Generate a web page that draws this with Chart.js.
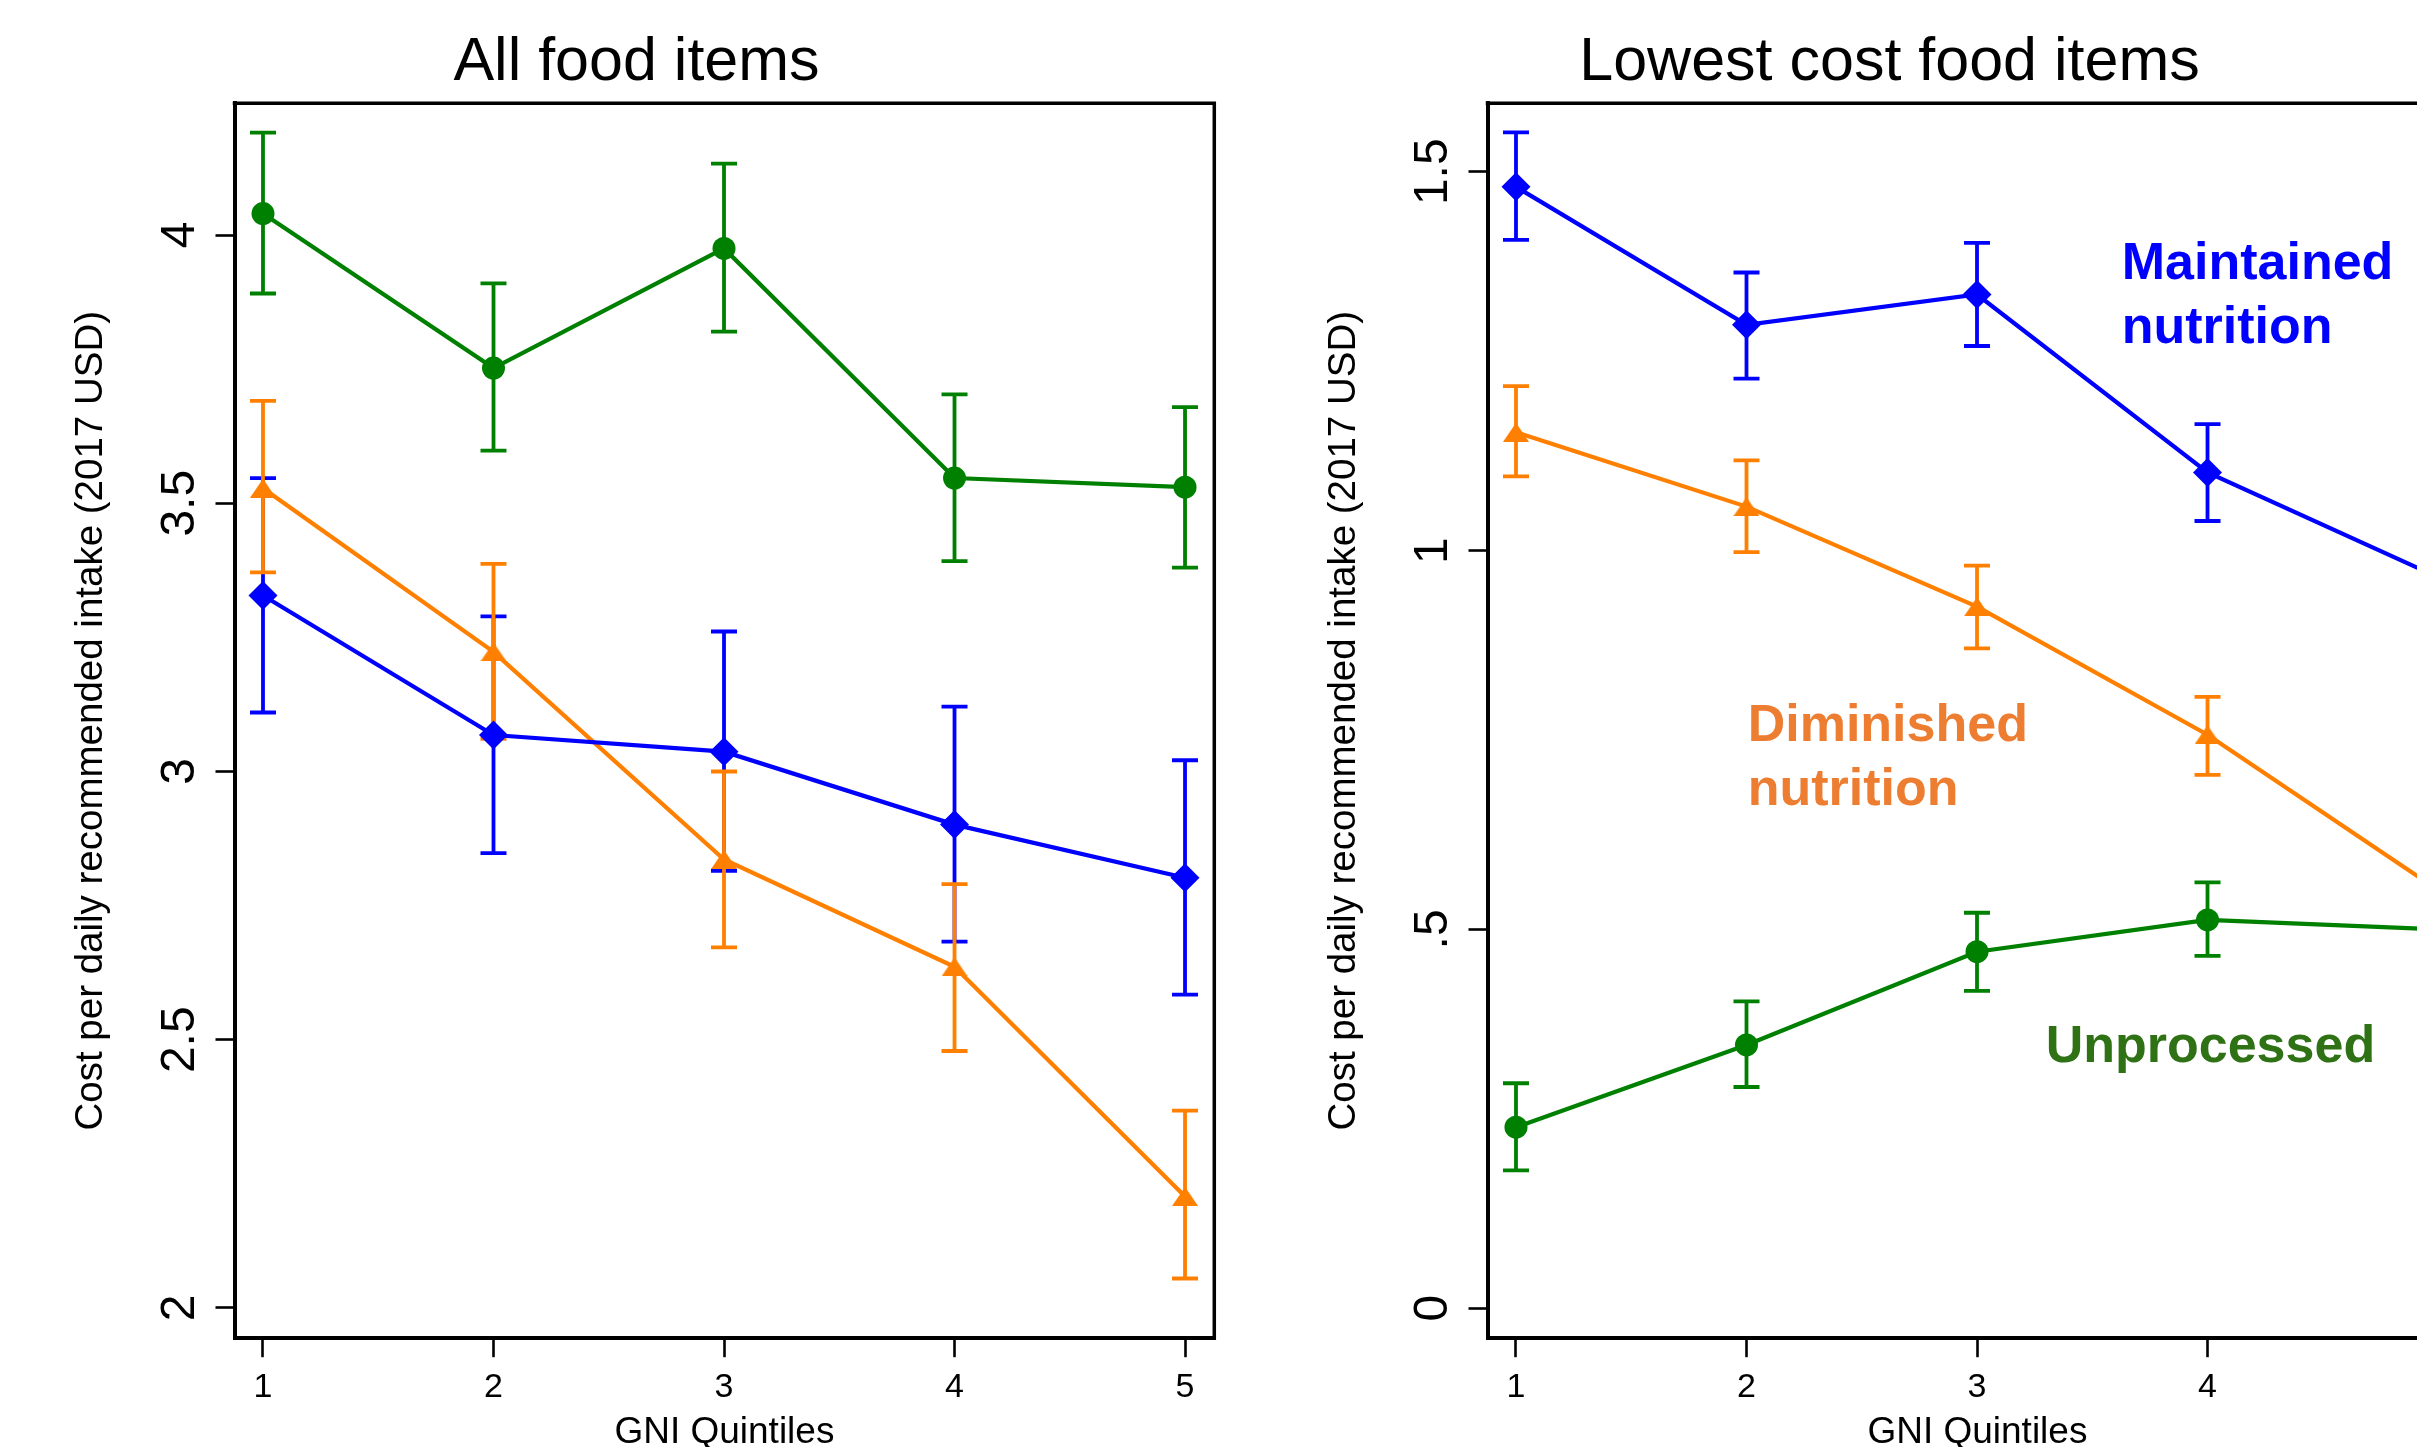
<!DOCTYPE html>
<html><head><meta charset="utf-8">
<script src="https://cdn.jsdelivr.net/npm/chart.js@4.4.1/dist/chart.umd.min.js"></script>
<style>
html,body{margin:0;padding:0;background:#fff;overflow:hidden;width:2417px;height:1447px;}
.panel{position:absolute;top:0;width:1273px;height:1447px;}
#p1{left:0}
#p2{left:1253px}
</style></head><body>
<div class="panel" id="p1"><canvas id="c1"></canvas></div>
<div class="panel" id="p2"><canvas id="c2"></canvas></div>
<script>
// ---------------- data ----------------
const quintiles = [1, 2, 3, 4, 5];
const xTickLabels = ['1', '2', '3', '4', '5'];
const seriesNames = ['Maintained nutrition', 'Diminished nutrition', 'Unprocessed'];

// Panel 1: All food items
const allMaintained   = [3.328, 3.068, 3.037, 2.901, 2.802];
const allMaintainedLo = [3.110, 2.848, 2.815, 2.683, 2.584];
const allMaintainedHi = [3.547, 3.289, 3.261, 3.121, 3.021];
const allDiminished   = [3.528, 3.223, 2.836, 2.636, 2.208];
const allDiminishedLo = [3.371, 3.061, 2.672, 2.479, 2.055];
const allDiminishedHi = [3.691, 3.387, 3.000, 2.790, 2.368];
const allUnprocessed   = [4.040, 3.752, 3.975, 3.547, 3.530];
const allUnprocessedLo = [3.891, 3.598, 3.820, 3.392, 3.380];
const allUnprocessedHi = [4.191, 3.910, 4.133, 3.703, 3.679];
const allYTicks = [2, 2.5, 3, 3.5, 4];
const allYTickLabels = ['2', '2.5', '3', '3.5', '4'];

// Panel 2: Lowest cost food items (quintile 5 error bars lie outside the picture)
const lowMaintained   = [1.480, 1.298, 1.338, 1.103, 0.965];
const lowMaintainedLo = [1.410, 1.227, 1.270, 1.039, null];
const lowMaintainedHi = [1.552, 1.367, 1.406, 1.167, null];
const lowDiminished   = [1.156, 1.058, 0.926, 0.757, 0.552];
const lowDiminishedLo = [1.098, 0.998, 0.871, 0.704, null];
const lowDiminishedHi = [1.217, 1.119, 0.980, 0.807, null];
const lowUnprocessed   = [0.239, 0.3475, 0.4706, 0.5125, 0.500];
const lowUnprocessedLo = [0.182, 0.292, 0.419, 0.465, null];
const lowUnprocessedHi = [0.297, 0.405, 0.522, 0.562, null];
const lowYTicks = [0, 0.5, 1, 1.5];
const lowYTickLabels = ['0', '.5', '1', '1.5'];

const panelTitles = ['All food items', 'Lowest cost food items'];
const xAxisTitle = 'GNI Quintiles';
const yAxisTitle = 'Cost per daily recommended intake (2017 USD)';

// ---------------- styling ----------------
const FONT = '"Liberation Sans", Arial, Helvetica, sans-serif';
Chart.defaults.font.family = FONT;
Chart.defaults.color = '#000';
const BLUE = '#0000FF', ORANGE = '#FF8000', GREEN = '#008000';

function triangleMarker(color) {
  const c = document.createElement('canvas');
  c.width = 26; c.height = 19;
  const g = c.getContext('2d');
  g.fillStyle = color;
  g.beginPath(); g.moveTo(13, 0); g.lineTo(26, 19); g.lineTo(0, 19); g.closePath(); g.fill();
  return c;
}

function series(label, values, lo, hi, color, style, radius) {
  return {
    label,
    data: quintiles.map((q, i) => ({x: q, y: values[i]})),
    errLo: lo, errHi: hi,
    borderColor: color, backgroundColor: color,
    pointBackgroundColor: color, pointBorderColor: color, pointBorderWidth: 0,
    borderWidth: 4.2, pointStyle: style, pointRadius: radius, pointHoverRadius: radius,
    tension: 0, fill: false
  };
}

function makeDecor(cfg) {
  return {
    id: 'decor',
    beforeDatasetsDraw(chart) {
      const {ctx} = chart; const xs = chart.scales.x, ys = chart.scales.y;
      ctx.save();
      chart.data.datasets.forEach(ds => {
        ctx.strokeStyle = ds.borderColor; ctx.lineWidth = 3.8; ctx.lineCap = 'butt';
        ds.data.forEach((p, i) => {
          const lo = ds.errLo[i], hi = ds.errHi[i];
          if (lo == null || hi == null) return;
          const px = xs.getPixelForValue(p.x), y1 = ys.getPixelForValue(lo), y2 = ys.getPixelForValue(hi);
          ctx.beginPath();
          ctx.moveTo(px, y1); ctx.lineTo(px, y2);
          ctx.moveTo(px - 13, y1); ctx.lineTo(px + 13, y1);
          ctx.moveTo(px - 13, y2); ctx.lineTo(px + 13, y2);
          ctx.stroke();
        });
      });
      ctx.restore();
    },
    afterDraw(chart) {
      const {ctx, chartArea: a} = chart; const xs = chart.scales.x, ys = chart.scales.y;
      ctx.save();
      ctx.strokeStyle = '#000'; ctx.lineWidth = 3.5; ctx.lineCap = 'square';
      ctx.beginPath(); ctx.moveTo(a.left, a.top); ctx.lineTo(a.right, a.top); ctx.lineTo(a.right, a.bottom); ctx.stroke();
      ctx.fillStyle = '#000'; ctx.textAlign = 'center'; ctx.textBaseline = 'alphabetic';
      ctx.font = '61px ' + FONT;
      ctx.fillText(cfg.title, chart.width / 2, 80.4);
      ctx.font = '37px ' + FONT;
      ctx.fillText(xAxisTitle, (a.left + a.right) / 2, 1443);
      ctx.font = '48px ' + FONT;
      ys.ticks.forEach(t => {
        const py = ys.getPixelForValue(t.value);
        ctx.save(); ctx.translate(a.left - 41, py); ctx.rotate(-Math.PI / 2); ctx.fillText(t.label, 0, 0); ctx.restore();
      });
      ctx.font = '38.5px ' + FONT;
      ctx.save(); ctx.translate(a.left - 132.8, (a.top + a.bottom) / 2); ctx.rotate(-Math.PI / 2);
      ctx.fillText(yAxisTitle, 0, 0); ctx.restore();
      ctx.textAlign = 'left'; ctx.font = 'bold 52px ' + FONT;
      cfg.notes.forEach(n => {
        ctx.fillStyle = n.color;
        const px = xs.getPixelForValue(n.x), py = ys.getPixelForValue(n.y);
        n.lines.forEach((l, k) => ctx.fillText(l, px, py + k * 64));
      });
      ctx.restore();
    }
  };
}

function makeChart(id, cfg) {
  const gridOpts = {drawOnChartArea: false, drawTicks: true, tickLength: 19, tickWidth: 2.6, tickColor: '#000'};
  const borderOpts = {display: true, color: '#000', width: 4};
  return new Chart(document.getElementById(id), {
    type: 'line',
    data: {datasets: cfg.datasets},
    options: {
      responsive: true, maintainAspectRatio: false, animation: false, events: [],
      layout: {padding: {left: 0, top: 103.3, right: 58.7, bottom: 0}},
      plugins: {legend: {display: false}, tooltip: {enabled: false}, title: {display: false}},
      scales: {
        x: {
          type: 'linear', min: 0.8764, max: 5.127,
          afterBuildTicks: s => { s.ticks = quintiles.map(v => ({value: v})); },
          afterFit: s => { s.height = 108.8; },
          ticks: {font: {size: 34}, color: '#000', padding: 10, maxRotation: 0, callback: (v, i) => xTickLabels[i]},
          grid: gridOpts, border: borderOpts
        },
        y: {
          type: 'linear', min: cfg.yMin, max: cfg.yMax,
          afterBuildTicks: s => { s.ticks = cfg.yTicks.map(v => ({value: v})); },
          afterFit: s => { s.width = 234.5; },
          ticks: {display: false, callback: (v, i) => cfg.yTickLabels[i]},
          grid: gridOpts, border: borderOpts
        }
      }
    },
    plugins: [makeDecor(cfg)]
  });
}

const TRI = triangleMarker(ORANGE);

makeChart('c1', {
  title: panelTitles[0],
  yMin: 1.9437, yMax: 4.2455, yTicks: allYTicks, yTickLabels: allYTickLabels,
  datasets: [
    series(seriesNames[0], allMaintained, allMaintainedLo, allMaintainedHi, BLUE, 'rectRot', 14.5),
    series(seriesNames[1], allDiminished, allDiminishedLo, allDiminishedHi, ORANGE, TRI, 12),
    series(seriesNames[2], allUnprocessed, allUnprocessedLo, allUnprocessedHi, GREEN, 'circle', 11.5)
  ],
  notes: []
});

makeChart('c2', {
  title: panelTitles[1],
  yMin: -0.0395, yMax: 1.5903, yTicks: lowYTicks, yTickLabels: lowYTickLabels,
  datasets: [
    series(seriesNames[0], lowMaintained, lowMaintainedLo, lowMaintainedHi, BLUE, 'rectRot', 14.5),
    series(seriesNames[1], lowDiminished, lowDiminishedLo, lowDiminishedHi, ORANGE, TRI, 12),
    series(seriesNames[2], lowUnprocessed, lowUnprocessedLo, lowUnprocessedHi, GREEN, 'circle', 11.5)
  ],
  notes: [
    {lines: ['Maintained', 'nutrition'], x: 3.628, y: 1.359, color: '#0000FF'},
    {lines: ['Diminished', 'nutrition'], x: 2.005, y: 0.749, color: '#ED7D31'},
    {lines: ['Unprocessed'], x: 3.298, y: 0.325, color: '#2F7115'}
  ]
});
</script>
</body></html>
